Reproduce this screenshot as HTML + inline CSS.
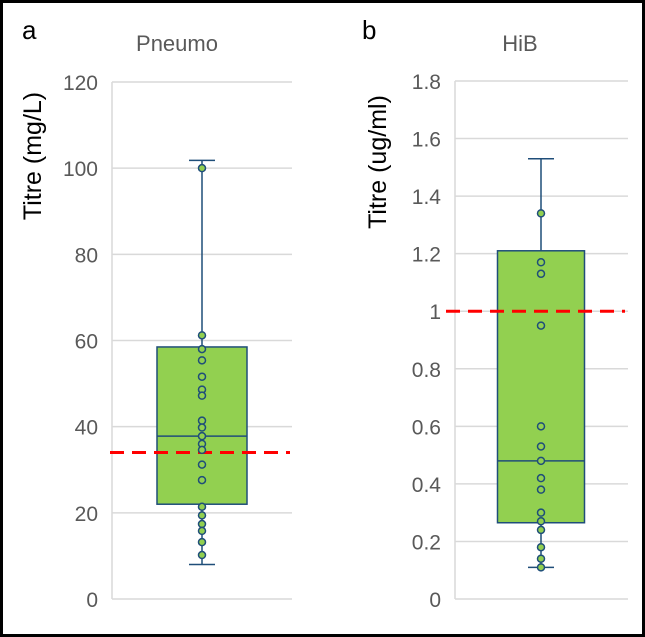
<!DOCTYPE html>
<html><head><meta charset="utf-8"><style>
body{margin:0;background:#fff}
svg{display:block;font-family:"Liberation Sans",sans-serif}
</style></head><body>
<svg id="chart" width="645" height="637" viewBox="0 0 645 637">
<rect x="1.5" y="1.5" width="642" height="634" fill="#fff" stroke="#000" stroke-width="3"/>
<g id="g"></g>
</svg>
<script>
const pneumoPoints=[100,61.2,58,55.4,51.6,48.6,47.2,41.4,39.8,37.8,36,34.6,31.2,27.6,21.4,19.4,17.4,15.8,13.2,10.2];
const pneumoStats=[8,22,37.8,58.5,101.8];
const pneumoThreshold=34;
const pneumoTicks=[0,20,40,60,80,100,120];
const hibPoints=[1.34,1.17,1.13,0.95,0.60,0.53,0.48,0.42,0.38,0.30,0.27,0.24,0.18,0.14,0.11];
const hibStats=[0.11,0.265,0.48,1.21,1.53];
const hibThreshold=1.0;
const hibTickVals=[0,0.2,0.4,0.6,0.8,1,1.2,1.4,1.6,1.8];
const hibTickLabels=["0","0.2","0.4","0.6","0.8","1","1.2","1.4","1.6","1.8"];
const NS="http://www.w3.org/2000/svg";
const g=document.getElementById('g');
function mk(t,a,p){const e=document.createElementNS(NS,t);for(const k in a)e.setAttribute(k,a[k]);(p||g).appendChild(e);return e;}
function panel(o){
  const y=v=>o.y0-(v/o.max)*(o.y0-o.y1);
  const grp=mk('g',{});
  
  
  o.ticks.forEach((v,i)=>{
    const l=mk('line',{x1:o.px0,x2:o.px1,y1:y(v),y2:y(v),stroke:'#d9d9d9','stroke-width':1.5},grp);
    
    
    const t=mk('text',{x:o.tx,y:y(v)+8,'text-anchor':'end','font-size':21,fill:'#595959'},grp);
    t.textContent=o.labels[i];
    
    
  });
  const ax=mk('line',{x1:o.px0,x2:o.px0,y1:o.y1,y2:o.y0,stroke:'#d9d9d9','stroke-width':1.5},grp);
  
  
  const s=o.stats,c=o.cx,st='#1f4e79';
  const w=mk('line',{x1:c,x2:c,y1:y(s[0]),y2:y(s[4]),stroke:st,'stroke-width':1.5},grp);
  
  
  [s[0],s[4]].forEach(v=>{const cap=mk('line',{x1:c-13,x2:c+13,y1:y(v),y2:y(v),stroke:st,'stroke-width':1.5},grp);
    
    });
  const b=mk('rect',{x:c-o.bw/2,y:y(s[3]),width:o.bw,height:y(s[1])-y(s[3]),fill:'#92d050',stroke:st,'stroke-width':1.5},grp);
  
  
  const m=mk('line',{x1:c-o.bw/2,x2:c+o.bw/2,y1:y(s[2]),y2:y(s[2]),stroke:st,'stroke-width':1.5},grp);
  
  
  const r=mk('line',{x1:o.rx0,x2:o.rx1,y1:y(o.thr),y2:y(o.thr),stroke:'#ff0000','stroke-width':3,'stroke-dasharray':'14,8'},grp);
  
  
  o.pts.forEach(v=>{const p=mk('circle',{cx:c,cy:y(v),r:3.5,fill:'#92d050',stroke:st,'stroke-width':1.5},grp);
    
    });
  const L=mk('text',{x:o.lx,y:39,'font-size':26,fill:'#000'},grp);L.textContent=o.letter;
  
  
  const T=mk('text',{x:o.titleX,y:51,'text-anchor':'middle','font-size':22,fill:'#595959'},grp);T.textContent=o.title;
  
  
  const Y=mk('text',{x:0,y:0,'text-anchor':'middle','font-size':25,fill:'#000',transform:`translate(${o.ytx},${o.yty}) rotate(-90)`},grp);Y.textContent=o.ytitle;
  
  
}
panel({name:'pneumo',max:120,y0:599,y1:82,px0:112,px1:292,tx:98,ticks:pneumoTicks,labels:pneumoTicks.map(String),stats:pneumoStats,pts:pneumoPoints,thr:pneumoThreshold,cx:202,bw:90,rx0:110,rx1:290,lx:22,letter:'a',title:'Pneumo',titleX:177,ytitle:'Titre (mg/L)',ytx:41,yty:156});
panel({name:'hib',max:1.8,y0:599,y1:81,px0:455,px1:628,tx:441,ticks:hibTickVals,labels:hibTickLabels,stats:hibStats,pts:hibPoints,thr:hibThreshold,cx:541,bw:87,rx0:446,rx1:625,lx:362,letter:'b',title:'HiB',titleX:520,ytitle:'Titre (ug/ml)',ytx:386,yty:162});
</script>
</body></html>
